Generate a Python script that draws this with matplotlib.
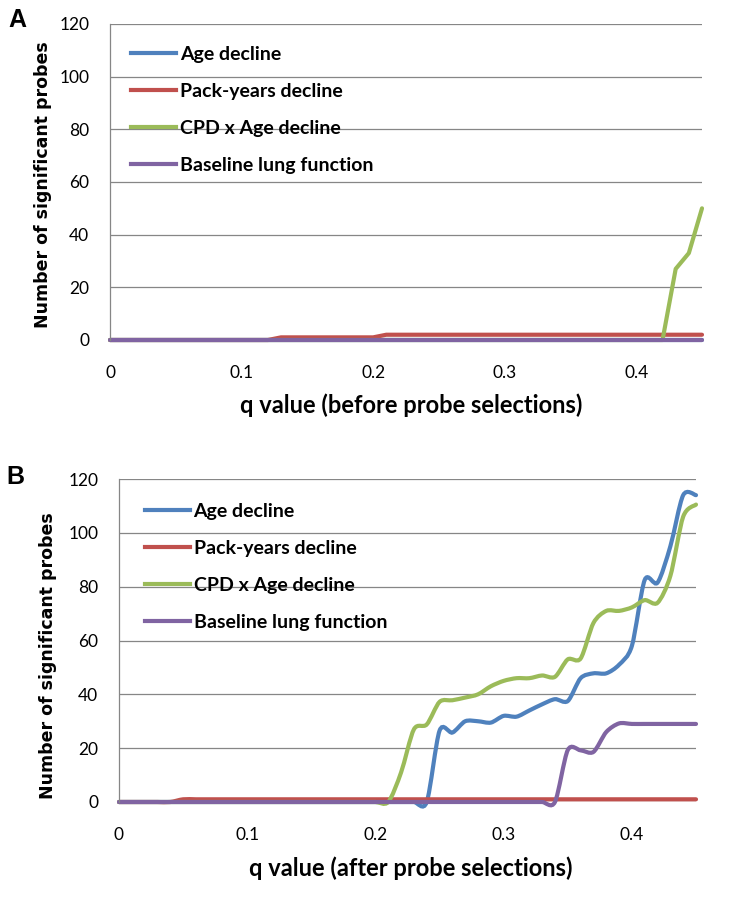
import numpy as np
import matplotlib
matplotlib.use("Agg")
import matplotlib.pyplot as plt
from matplotlib.path import Path
from matplotlib.patches import PathPatch

# q values (x axis), one point every 0.01
q = [0.00, 0.01, 0.02, 0.03, 0.04, 0.05, 0.06, 0.07, 0.08, 0.09,
     0.10, 0.11, 0.12, 0.13, 0.14, 0.15, 0.16, 0.17, 0.18, 0.19,
     0.20, 0.21, 0.22, 0.23, 0.24, 0.25, 0.26, 0.27, 0.28, 0.29,
     0.30, 0.31, 0.32, 0.33, 0.34, 0.35, 0.36, 0.37, 0.38, 0.39,
     0.40, 0.41, 0.42, 0.43, 0.44, 0.45]

series_names = ["Age decline", "Pack-years decline", "CPD x Age decline", "Baseline lung function"]
colors = ["#4F81BD", "#C0504D", "#9BBB59", "#8064A2"]

# panel A : before probe selections
a_age = [0, 0, 0, 0, 0, 0, 0, 0, 0, 0,
         0, 0, 0, 0, 0, 0, 0, 0, 0, 0,
         0, 0, 0, 0, 0, 0, 0, 0, 0, 0,
         0, 0, 0, 0, 0, 0, 0, 0, 0, 0,
         0, 0, 0, 0, 0, 0]
a_pack = [0, 0, 0, 0, 0, 0, 0, 0, 0, 0,
          0, 0, 0, 1, 1, 1, 1, 1, 1, 1,
          1, 2, 2, 2, 2, 2, 2, 2, 2, 2,
          2, 2, 2, 2, 2, 2, 2, 2, 2, 2,
          2, 2, 2, 2, 2, 2]
a_cpd = [0, 0, 0, 0, 0, 0, 0, 0, 0, 0,
         0, 0, 0, 0, 0, 0, 0, 0, 0, 0,
         0, 0, 0, 0, 0, 0, 0, 0, 0, 0,
         0, 0, 0, 0, 0, 0, 0, 0, 0, 0,
         0, 0, 0, 27, 33, 50]
a_base = [0, 0, 0, 0, 0, 0, 0, 0, 0, 0,
          0, 0, 0, 0, 0, 0, 0, 0, 0, 0,
          0, 0, 0, 0, 0, 0, 0, 0, 0, 0,
          0, 0, 0, 0, 0, 0, 0, 0, 0, 0,
          0, 0, 0, 0, 0, 0]

# panel B : after probe selections
b_age = [0, 0, 0, 0, 0, 0, 0, 0, 0, 0,
         0, 0, 0, 0, 0, 0, 0, 0, 0, 0,
         0, 0, 0, 0, 0, 26.5, 25.8, 30, 30, 29.5,
         32, 31.7, 34, 36.3, 38.2, 37.5, 46, 47.8, 47.8, 51,
         58, 82.5, 81.5, 95, 114, 114]
b_pack = [0, 0, 0, 0, 0, 1, 1, 1, 1, 1,
          1, 1, 1, 1, 1, 1, 1, 1, 1, 1,
          1, 1, 1, 1, 1, 1, 1, 1, 1, 1,
          1, 1, 1, 1, 1, 1, 1, 1, 1, 1,
          1, 1, 1, 1, 1, 1]
b_cpd = [0, 0, 0, 0, 0, 0, 0, 0, 0, 0,
         0, 0, 0, 0, 0, 0, 0, 0, 0, 0,
         0, 0, 11, 27, 28.8, 37.2, 37.8, 38.8, 40, 43,
         45, 46, 46, 47, 46.5, 53, 53.3, 66.5, 71, 71,
         72.3, 75, 74, 84, 106, 110.5]
b_base = [0, 0, 0, 0, 0, 0, 0, 0, 0, 0,
          0, 0, 0, 0, 0, 0, 0, 0, 0, 0,
          0, 0, 0, 0, 0, 0, 0, 0, 0, 0,
          0, 0, 0, 0, 0, 19.3, 19.2, 18.6, 26, 29.2,
          29, 29, 29, 29, 29, 29]

y_ticks = [0, 20, 40, 60, 80, 100, 120]
x_ticks = [0, 0.1, 0.2, 0.3, 0.4]

LW = 3.0
tickfont = {"family": "Lato", "size": 12.5}


def smooth_path(x, y, k=7.0):
    # excel style smoothed line (bezier through the points)
    x = np.asarray(x, float)
    y = np.asarray(y, float)
    n = len(x)
    verts = [(x[0], y[0])]
    codes = [Path.MOVETO]
    for i in range(n - 1):
        p0 = i - 1 if i > 0 else i
        p3 = i + 2 if i + 2 < n else i + 1
        c1 = (x[i] + (x[i + 1] - x[p0]) / k, y[i] + (y[i + 1] - y[p0]) / k)
        c2 = (x[i + 1] - (x[p3] - x[i]) / k, y[i + 1] - (y[p3] - y[i]) / k)
        verts += [c1, c2, (x[i + 1], y[i + 1])]
        codes += [Path.CURVE4] * 3
    return Path(verts, codes)


def setup_axes(ax):
    ax.set_xlim(0, 0.45)
    ax.set_ylim(0, 120)
    ax.set_yticks(y_ticks)
    ax.set_xticks(x_ticks)
    ax.set_xticklabels(["0", "0.1", "0.2", "0.3", "0.4"], fontdict=tickfont)
    ax.set_yticklabels([str(v) for v in y_ticks], fontdict=tickfont)
    ax.tick_params(axis="both", length=0, colors="#000000")
    ax.tick_params(axis="x", pad=18)
    ax.tick_params(axis="y", pad=15)
    ax.grid(axis="y", color="#868686", lw=0.9)
    ax.set_axisbelow(True)
    for s in ["top", "right", "bottom"]:
        ax.spines[s].set_visible(False)
    ax.spines["left"].set_color("#868686")
    ax.spines["left"].set_linewidth(0.9)


def add_legend(ax, anchor):
    handles = []
    for name, c in zip(series_names, colors):
        h, = ax.plot([], [], color=c, lw=LW, label=name)
        handles.append(h)
    ax.legend(handles=handles, loc="upper left", bbox_to_anchor=anchor,
              frameon=False, handlelength=2.3, handletextpad=0.2,
              labelspacing=1.03, borderpad=0, borderaxespad=0,
              prop={"family": "Lato", "weight": "bold", "size": 14})


fig = plt.figure(figsize=(7.54, 9.06), dpi=100)

# ---- panel A
axA = fig.add_axes([110 / 754, 1 - 340 / 906, 592 / 754, 316 / 906])
setup_axes(axA)
for vals, c in zip([a_age, a_pack, a_cpd, a_base], colors):
    axA.plot(q, vals, color=c, lw=LW, solid_capstyle="round", clip_on=False)
add_legend(axA, (0.036, 0.93))

# ---- panel B
axB = fig.add_axes([119 / 754, 1 - 802 / 906, 577 / 754, 323 / 906])
setup_axes(axB)
for vals, c in zip([b_age, b_pack, b_cpd, b_base], colors):
    patch = PathPatch(smooth_path(q, vals), facecolor="none", edgecolor=c,
                      lw=LW, capstyle="round", clip_on=False)
    axB.add_patch(patch)
add_legend(axB, (0.045, 0.927))

# labels
ylab = {"family": "DejaVu Sans", "weight": "bold", "size": 12.5}
xlab = {"family": "Lato", "weight": "bold", "size": 17}
fig.text(43 / 754, 1 - 185 / 906, "Number of significant probes", rotation=90,
         ha="center", va="center", fontdict=ylab)
fig.text(48 / 754, 1 - 656 / 906, "Number of significant probes", rotation=90,
         ha="center", va="center", fontdict=ylab)
fig.text(411 / 754, 1 - 405 / 906, "q value (before probe selections)",
         ha="center", va="center", fontdict=xlab)
fig.text(411 / 754, 1 - 868 / 906, "q value (after probe selections)",
         ha="center", va="center", fontdict=xlab)

fig.text(17 / 754, 1 - 20 / 906, "A", ha="center", va="center",
         fontdict={"family": "Liberation Sans", "weight": "bold", "size": 18})
fig.text(15 / 754, 1 - 477 / 906, "B", ha="center", va="center",
         fontdict={"family": "Liberation Sans", "weight": "bold", "size": 18})

fig.savefig("out.png", dpi=100)
